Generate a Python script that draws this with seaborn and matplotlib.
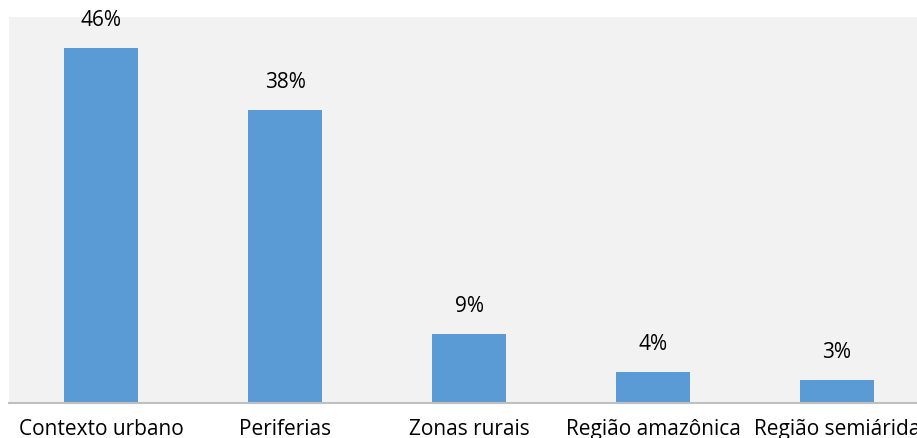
import seaborn as sns
import matplotlib.pyplot as plt
import pandas as pd

categories = ['Contexto urbano', 'Periferias', 'Zonas rurais', 'Região amazônica', 'Região semiárida']
values = [46, 38, 9, 4, 3]
labels = ['46%', '38%', '9%', '4%', '3%']

df = pd.DataFrame({'categoria': categories, 'valor': values})

sns.set_style('white')
plt.rcParams['font.family'] = ['Open Sans', 'DejaVu Sans']
plt.rcParams['text.color'] = 'black'
plt.rcParams['xtick.color'] = 'black'

fig = plt.figure(figsize=(9.17, 4.39), dpi=100)
# plot area runs past the right edge, like the cropped original
ax = fig.add_axes([9 / 917, 35 / 439, 920 / 917, 386 / 439])
ax.set_facecolor('#f2f2f2')

sns.barplot(data=df, x='categoria', y='valor', color='#5b9bd5', width=0.4,
            saturation=1, linewidth=0, ax=ax)

ax.set_ylim(0, 50)
ax.set_xlim(-0.5, 4.5)
for i, lab in enumerate(labels):
    ax.text(i, values[i] + 2.3, lab, ha='center', va='bottom', fontsize=15,
            color='black')

ax.set_yticks([])
ax.set_xlabel('')
ax.set_ylabel('')
ax.tick_params(axis='x', length=0, labelsize=15, labelcolor='black', pad=11)
for s in ['top', 'right', 'left']:
    ax.spines[s].set_visible(False)
ax.spines['bottom'].set_color('#bfbfbf')
ax.spines['bottom'].set_linewidth(1.5)

fig.savefig('out.png', dpi=100)
